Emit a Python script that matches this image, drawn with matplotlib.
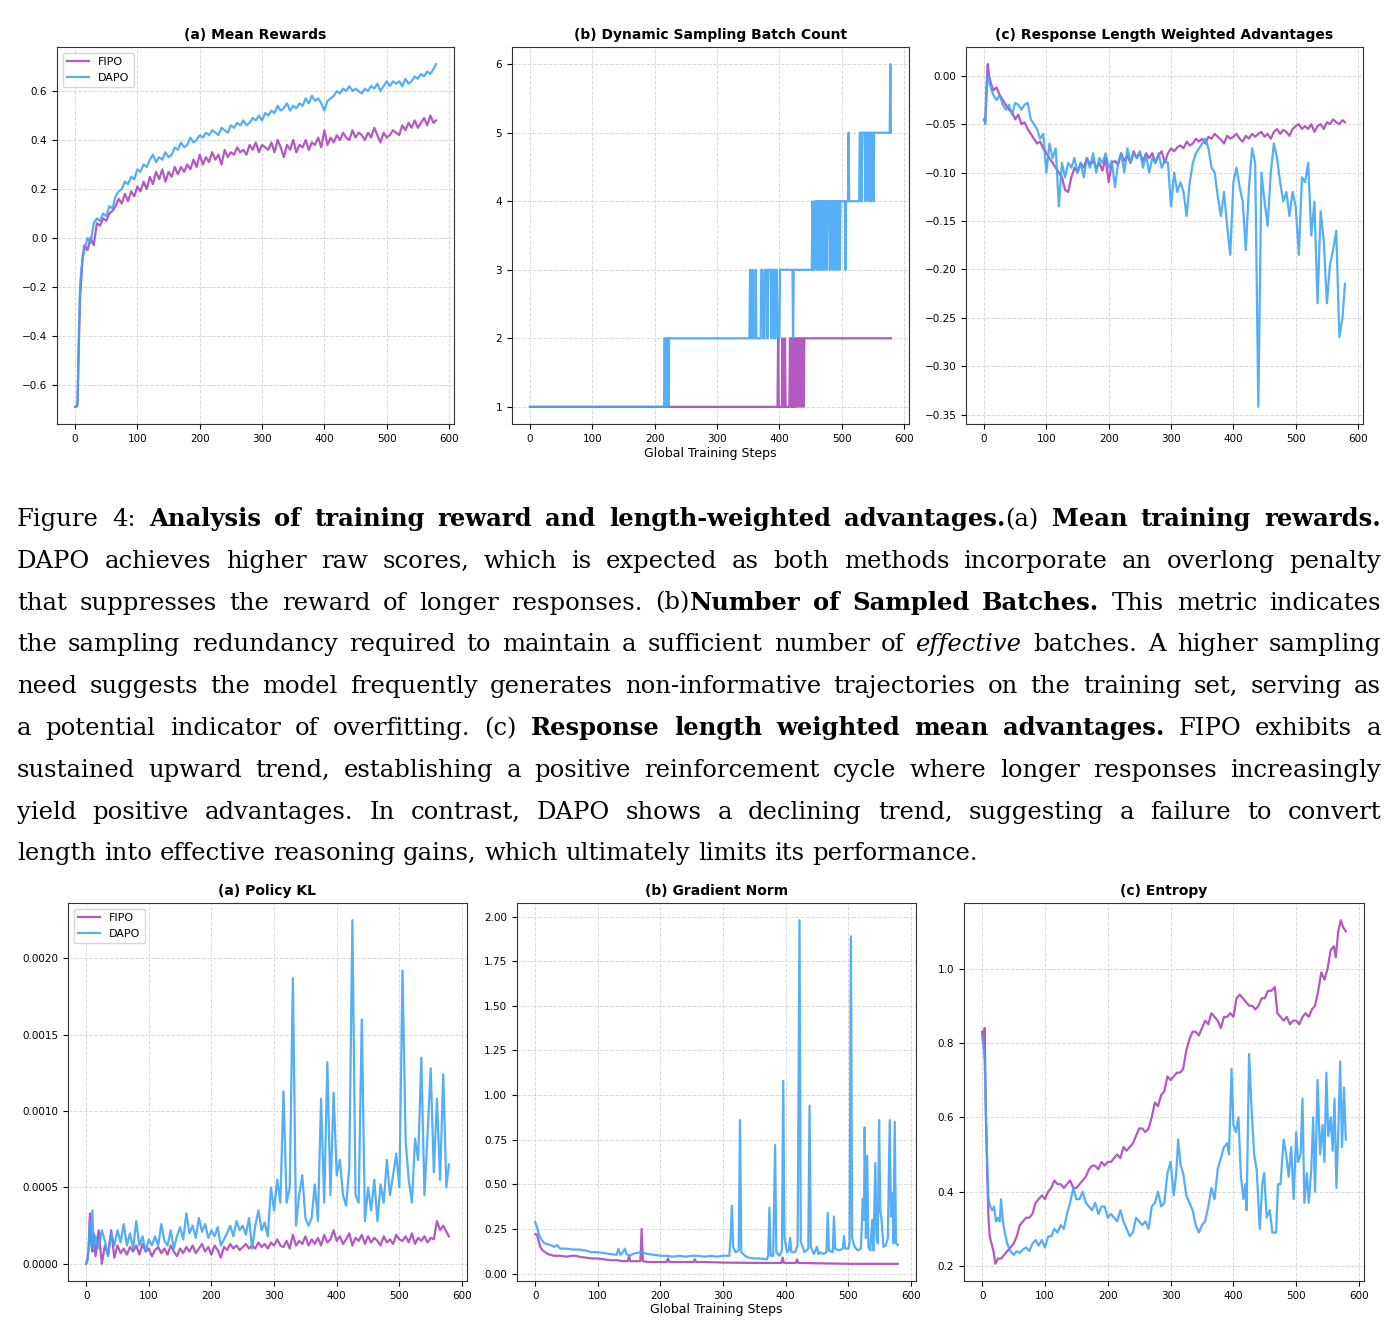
import matplotlib
matplotlib.use("Agg")
import matplotlib.pyplot as plt

W, H = 1398, 1337
FIPO_C = '#AB47BC'
DAPO_C = '#42A5F5'

# common step grid used by several panels
steps = [0, 2, 4, 6, 8, 10, 12] + list(range(15, 580, 5)) + [579]

# ---------------- (a) Mean Rewards ----------------
reward_fipo = [-0.69, -0.69, -0.68, -0.45, -0.25, -0.17, -0.08,
               -0.03, -0.05, 0.00, -0.03, 0.06, 0.05, 0.08, 0.07, 0.10, 0.11,
               0.13, 0.16, 0.14, 0.18, 0.15, 0.19, 0.17, 0.21, 0.19, 0.23,
               0.20, 0.25, 0.22, 0.27, 0.24, 0.28, 0.23, 0.27, 0.25, 0.29,
               0.26, 0.29, 0.27, 0.30, 0.28, 0.32, 0.29, 0.34, 0.30, 0.33,
               0.31, 0.35, 0.32, 0.34, 0.30, 0.36, 0.33, 0.35, 0.34, 0.37,
               0.35, 0.36, 0.34, 0.38, 0.36, 0.39, 0.35, 0.38, 0.37, 0.36,
               0.39, 0.35, 0.40, 0.37, 0.33, 0.38, 0.36, 0.40, 0.35, 0.38,
               0.37, 0.40, 0.36, 0.39, 0.38, 0.41, 0.37, 0.44, 0.38, 0.41,
               0.39, 0.42, 0.40, 0.43, 0.41, 0.40, 0.44, 0.41, 0.43, 0.42,
               0.40, 0.43, 0.41, 0.45, 0.42, 0.39, 0.43, 0.41, 0.42, 0.44,
               0.43, 0.42, 0.46, 0.44, 0.47, 0.45, 0.48, 0.45, 0.47, 0.49,
               0.46, 0.50, 0.47,
               0.48]
reward_dapo = [-0.69, -0.69, -0.67, -0.40, -0.20, -0.13, -0.09,
               -0.05, 0.00, -0.02, 0.06, 0.08, 0.07, 0.10, 0.09, 0.13, 0.12,
               0.17, 0.19, 0.20, 0.23, 0.22, 0.25, 0.24, 0.28, 0.27, 0.30,
               0.29, 0.32, 0.34, 0.31, 0.33, 0.32, 0.35, 0.33, 0.34, 0.37,
               0.36, 0.39, 0.37, 0.38, 0.41, 0.39, 0.40, 0.42, 0.41, 0.43,
               0.42, 0.44, 0.43, 0.42, 0.45, 0.44, 0.43, 0.46, 0.45, 0.47,
               0.46, 0.48, 0.46, 0.47, 0.49, 0.48, 0.50, 0.48, 0.51, 0.50,
               0.52, 0.51, 0.54, 0.52, 0.53, 0.55, 0.52, 0.54, 0.53, 0.55,
               0.54, 0.57, 0.55, 0.58, 0.56, 0.57, 0.55, 0.52, 0.56, 0.57,
               0.58, 0.60, 0.59, 0.61, 0.60, 0.62, 0.60, 0.61, 0.60, 0.59,
               0.61, 0.60, 0.62, 0.61, 0.63, 0.60, 0.62, 0.64, 0.62, 0.64,
               0.63, 0.64, 0.62, 0.65, 0.63, 0.64, 0.66, 0.65, 0.67, 0.66,
               0.68, 0.67, 0.69,
               0.71]

# ---------------- (b) Dynamic Sampling Batch Count ----------------
batch_fipo_x = [0, 397, 398, 399, 404, 405, 406, 408, 409, 410,
                416, 417, 418, 419, 420, 421, 422, 423, 424, 425,
                426, 427, 428, 430, 431, 432, 434, 435, 436, 438,
                439, 440, 579]
batch_fipo = [1, 1, 2, 1, 1, 2, 1, 1, 2, 1,
              1, 2, 2, 1, 2, 1, 2, 1, 2, 1,
              2, 1, 2, 2, 1, 2, 2, 1, 2, 2,
              1, 2, 2]
batch_dapo_x = [0, 215, 216, 217, 218, 219, 220, 221, 222, 223,
                352, 353, 354, 356, 357, 358, 361, 362, 363, 370,
                371, 373, 374, 376, 377, 380, 381, 382, 386, 387,
                388, 390, 391, 392, 393, 394, 396, 397, 400, 401,
                421, 422, 423, 452, 453, 454, 456, 457, 459, 460,
                461, 462, 463, 465, 466, 467, 468, 469, 471, 472,
                473, 475, 476, 477, 480, 481, 482, 484, 485, 486,
                488, 489, 490, 492, 493, 494, 496, 497, 498, 505,
                506, 507, 510, 511, 512, 528, 529, 531, 532, 533,
                537, 538, 539, 542, 543, 544, 546, 547, 548, 550,
                551, 552, 577, 578, 579]
batch_dapo = [1, 1, 2, 1, 2, 2, 1, 2, 1, 2,
              2, 3, 2, 2, 3, 2, 2, 3, 2, 2,
              3, 3, 2, 2, 3, 3, 2, 3, 3, 2,
              3, 3, 2, 3, 2, 3, 3, 2, 2, 3,
              3, 2, 3, 3, 4, 3, 3, 4, 4, 3,
              4, 3, 4, 4, 3, 4, 3, 4, 4, 3,
              4, 4, 3, 4, 4, 3, 4, 4, 3, 4,
              4, 3, 4, 4, 3, 4, 4, 3, 4, 4,
              3, 4, 4, 5, 4, 4, 5, 5, 4, 5,
              5, 4, 5, 5, 4, 5, 5, 4, 5, 5,
              4, 5, 5, 6, 5]

# ---------------- (c) Response Length Weighted Advantages ----------------
adv_fipo = [-0.045, -0.048, -0.010, 0.012, 0.000, -0.005, -0.010,
            -0.015, -0.012, -0.020, -0.025, -0.030, -0.035, -0.038, -0.045, -0.040, -0.050,
            -0.048, -0.055, -0.060, -0.065, -0.070, -0.068, -0.075, -0.080, -0.085, -0.090,
            -0.095, -0.100, -0.105, -0.118, -0.120, -0.105, -0.095, -0.100, -0.090, -0.095,
            -0.085, -0.092, -0.088, -0.095, -0.090, -0.098, -0.085, -0.110, -0.090, -0.088,
            -0.092, -0.080, -0.088, -0.083, -0.090, -0.078, -0.085, -0.080, -0.088, -0.080,
            -0.085, -0.080, -0.090, -0.082, -0.078, -0.090, -0.080, -0.075, -0.078, -0.074,
            -0.072, -0.075, -0.068, -0.072, -0.070, -0.065, -0.068, -0.065, -0.070, -0.063,
            -0.065, -0.060, -0.063, -0.066, -0.070, -0.062, -0.065, -0.063, -0.060, -0.065,
            -0.068, -0.062, -0.065, -0.060, -0.063, -0.060, -0.058, -0.063, -0.060, -0.065,
            -0.058, -0.055, -0.060, -0.056, -0.058, -0.062, -0.055, -0.052, -0.050, -0.055,
            -0.052, -0.055, -0.050, -0.058, -0.052, -0.050, -0.055, -0.048, -0.050, -0.045,
            -0.048, -0.050, -0.046,
            -0.048]
adv_dapo = [-0.045, -0.050, -0.020, 0.000, -0.005, -0.010, -0.015,
            -0.020, -0.025, -0.020, -0.030, -0.035, -0.030, -0.040, -0.028, -0.030, -0.035,
            -0.030, -0.028, -0.045, -0.050, -0.055, -0.065, -0.060, -0.100, -0.070, -0.085,
            -0.075, -0.135, -0.090, -0.105, -0.090, -0.095, -0.085, -0.100, -0.090, -0.105,
            -0.085, -0.095, -0.080, -0.100, -0.085, -0.090, -0.080, -0.095, -0.088, -0.115,
            -0.090, -0.080, -0.100, -0.075, -0.090, -0.080, -0.085, -0.078, -0.095, -0.082,
            -0.100, -0.085, -0.090, -0.080, -0.095, -0.088, -0.090, -0.135, -0.100, -0.120,
            -0.110, -0.120, -0.145, -0.110, -0.090, -0.080, -0.075, -0.070, -0.065, -0.075,
            -0.095, -0.100, -0.125, -0.145, -0.120, -0.155, -0.185, -0.110, -0.095, -0.115,
            -0.130, -0.180, -0.115, -0.075, -0.090, -0.342, -0.100, -0.130, -0.155, -0.100,
            -0.070, -0.085, -0.110, -0.130, -0.120, -0.145, -0.120, -0.135, -0.185, -0.105,
            -0.110, -0.090, -0.165, -0.130, -0.235, -0.140, -0.170, -0.235, -0.195, -0.180,
            -0.160, -0.270, -0.250,
            -0.215]

# ---------------- (a) Policy KL ----------------
kl_fipo = [0.0, 0.00003, 0.0001, 0.00033, 0.00015, 0.00008, 0.0002,
           0.00005, 0.00022, 0.0, 0.00012, 0.00006, 0.00022, 0.00004, 0.00012, 0.00007, 0.00010,
           0.00006, 0.00011, 0.00008, 0.00012, 0.00006, 0.00013, 0.00008, 0.00010, 0.00005, 0.00009,
           0.00011, 0.00007, 0.00010, 0.00006, 0.00012, 0.00008, 0.00005, 0.00010, 0.00007, 0.00011,
           0.00008, 0.00012, 0.00007, 0.00010, 0.00013, 0.00008, 0.00011, 0.00006, 0.00012, 0.00009,
           0.00004, 0.00011, 0.00009, 0.00013, 0.00010, 0.00012, 0.00009, 0.00011, 0.00013, 0.00010,
           0.00012, 0.00010, 0.00014, 0.00011, 0.00013, 0.00010, 0.00014, 0.00012, 0.00016, 0.00012,
           0.00011, 0.00015, 0.00010, 0.00019, 0.00012, 0.00015, 0.00013, 0.00018, 0.00012, 0.00016,
           0.00013, 0.00017, 0.00012, 0.00019, 0.00014, 0.00016, 0.00022, 0.00015, 0.00018, 0.00013,
           0.00016, 0.00020, 0.00012, 0.00017, 0.00015, 0.00019, 0.00013, 0.00018, 0.00014, 0.00017,
           0.00015, 0.00012, 0.00018, 0.00014, 0.00016, 0.00013, 0.00019, 0.00016, 0.00015, 0.00018,
           0.00014, 0.00020, 0.00013, 0.00017, 0.00015, 0.00018, 0.00014, 0.00017, 0.00016, 0.00028,
           0.00022, 0.00025, 0.00021,
           0.00018]
kl_dapo = [0.0, 0.00002, 0.0001, 0.00028, 0.00012, 0.00035, 0.0001,
           0.00018, 0.0001, 0.00022, 0.00015, 0.00005, 0.0002, 0.00012, 0.00022, 0.00014, 0.00026,
           0.00012, 0.0002, 0.0001, 0.00028, 0.00012, 0.00018, 0.00008, 0.00016, 0.00012, 0.00018,
           0.00012, 0.00026, 0.00015, 0.00012, 0.00022, 0.0001, 0.00018, 0.00024, 0.00016, 0.00033,
           0.0002, 0.00025, 0.00017, 0.0003, 0.00021, 0.00026, 0.00017, 0.00022, 0.00018, 0.00024,
           0.00012, 0.00016, 0.0002, 0.00025, 0.00018, 0.00028, 0.00022, 0.00025, 0.00019, 0.0003,
           0.0001, 0.00025, 0.00035, 0.00022, 0.00027, 0.00018, 0.0005, 0.00035, 0.00055, 0.0004,
           0.00113, 0.0004, 0.0005, 0.00187, 0.00025, 0.00045, 0.00058, 0.0003, 0.00025, 0.0003,
           0.00052, 0.00028, 0.00108, 0.0004, 0.00132, 0.00045, 0.00112, 0.00058, 0.00068, 0.00045,
           0.00038, 0.00063, 0.00225, 0.00045, 0.0004, 0.0016, 0.00028, 0.0005, 0.00035, 0.00055,
           0.00028, 0.00052, 0.0004, 0.00068, 0.00045, 0.00058, 0.00072, 0.0005, 0.00192, 0.0008,
           0.00055, 0.0004, 0.00082, 0.00068, 0.00135, 0.00045, 0.00085, 0.00128, 0.0006, 0.00108,
           0.00055, 0.00124, 0.0005,
           0.00065]

# ---------------- (b) Gradient Norm ----------------
gn_fipo_x = [0, 3, 5, 8, 12, 16, 20, 30, 40, 50, 60, 65, 70, 80, 90, 100,
             110, 120, 130, 140, 148, 150, 152, 160, 168, 170, 172,
             180, 190, 200, 210, 212, 214, 220, 240, 253, 255, 257, 270, 300, 350,
             393, 395, 397, 400, 416, 418, 420, 450, 500, 550, 579]
gn_fipo = [0.22, 0.22, 0.19, 0.15, 0.13, 0.12, 0.11, 0.10, 0.10, 0.095, 0.10, 0.10, 0.095, 0.09, 0.085, 0.085,
           0.08, 0.075, 0.075, 0.07, 0.07, 0.10, 0.07, 0.07, 0.07, 0.25, 0.07,
           0.065, 0.065, 0.065, 0.065, 0.085, 0.065, 0.065, 0.065, 0.065, 0.08, 0.065, 0.065, 0.062, 0.06,
           0.06, 0.09, 0.06, 0.06, 0.06, 0.08, 0.06, 0.058, 0.055, 0.055, 0.055]
gn_dapo_x = [0, 3, 6, 10, 15, 20, 25, 30, 35, 40,
             50, 60, 70, 80, 90, 100, 110, 120, 130, 133,
             136, 140, 143, 146, 150, 160, 170, 180, 190, 200,
             210, 220, 230, 240, 250, 260, 270, 280, 290, 300,
             310, 312, 314, 316, 320, 325, 327, 329, 335, 340,
             350, 360, 370, 372, 374, 376, 380, 383, 385, 390,
             394, 396, 398, 402, 405, 407, 409, 415, 419, 422,
             424, 430, 436, 438, 440, 445, 450, 452, 455, 460,
             465, 467, 469, 475, 477, 479, 485, 491, 493, 495,
             500, 502, 504, 506, 510, 515, 520, 523, 525, 526,
             528, 530, 532, 535, 538, 540, 543, 545, 547, 549,
             551, 553, 556, 560, 563, 566, 568, 570, 572, 574,
             576, 579]
gn_dapo = [0.29, 0.26, 0.22, 0.19, 0.17, 0.165, 0.16, 0.15, 0.16, 0.14,
           0.14, 0.135, 0.135, 0.13, 0.12, 0.12, 0.115, 0.11, 0.105, 0.14,
           0.105, 0.12, 0.14, 0.11, 0.10, 0.115, 0.12, 0.11, 0.105, 0.10,
           0.10, 0.095, 0.10, 0.095, 0.10, 0.10, 0.095, 0.10, 0.095, 0.10,
           0.10, 0.20, 0.38, 0.15, 0.12, 0.13, 0.86, 0.12, 0.10, 0.09,
           0.085, 0.085, 0.08, 0.10, 0.37, 0.10, 0.10, 0.72, 0.12, 0.10,
           0.13, 1.08, 0.20, 0.12, 0.13, 0.20, 0.12, 0.12, 0.16, 1.98,
           0.18, 0.12, 0.14, 0.94, 0.15, 0.11, 0.15, 0.11, 0.12, 0.11,
           0.12, 0.34, 0.13, 0.12, 0.32, 0.14, 0.13, 0.14, 0.21, 0.14,
           0.14, 0.18, 1.89, 0.20, 0.15, 0.13, 0.14, 0.42, 0.30, 0.82,
           0.20, 0.66, 0.15, 0.13, 0.30, 0.13, 0.62, 0.20, 0.17, 0.86,
           0.35, 0.30, 0.15, 0.16, 0.20, 0.86, 0.32, 0.45, 0.17, 0.85,
           0.17, 0.16]

# ---------------- (c) Entropy ----------------
ent_fipo_x = [0, 2, 4, 6, 8, 10, 12, 15, 18, 21,
              25, 30, 35, 40, 45, 50, 55, 60, 65, 70,
              75, 80, 85, 90, 95, 100, 105, 110, 115, 120,
              125, 130, 135, 140, 145, 150, 155, 160, 165, 170,
              175, 180, 185, 190, 195, 200, 205, 210, 215, 220,
              225, 230, 235, 240, 245, 250, 255, 260, 265, 270,
              275, 280, 285, 290, 295, 300, 305, 310, 315, 320,
              325, 330, 335, 340, 345, 350, 355, 360, 365, 370,
              375, 380, 385, 390, 395, 400, 405, 410, 415, 420,
              425, 430, 435, 440, 445, 450, 455, 460, 466, 470,
              475, 480, 485, 490, 495, 500, 505, 510, 515, 520,
              525, 530, 535, 540, 545, 550, 555, 560, 563, 567,
              571, 575, 579]
ent_fipo = [0.83, 0.80, 0.84, 0.60, 0.45, 0.33, 0.28, 0.26, 0.24, 0.206,
            0.22, 0.22, 0.23, 0.24, 0.25, 0.26, 0.28, 0.31, 0.32, 0.33,
            0.33, 0.34, 0.37, 0.38, 0.39, 0.38, 0.40, 0.41, 0.43, 0.42,
            0.42, 0.41, 0.42, 0.43, 0.41, 0.41, 0.42, 0.43, 0.44, 0.46,
            0.47, 0.47, 0.46, 0.48, 0.47, 0.48, 0.48, 0.49, 0.50, 0.49,
            0.52, 0.51, 0.52, 0.53, 0.55, 0.57, 0.57, 0.56, 0.57, 0.60,
            0.64, 0.63, 0.66, 0.67, 0.71, 0.70, 0.71, 0.72, 0.72, 0.73,
            0.78, 0.81, 0.83, 0.83, 0.82, 0.84, 0.86, 0.85, 0.88, 0.87,
            0.86, 0.84, 0.87, 0.87, 0.88, 0.87, 0.92, 0.93, 0.92, 0.91,
            0.90, 0.90, 0.89, 0.90, 0.92, 0.92, 0.94, 0.94, 0.95, 0.88,
            0.87, 0.86, 0.87, 0.85, 0.86, 0.86, 0.85, 0.87, 0.88, 0.87,
            0.89, 0.90, 0.94, 0.99, 0.97, 1.00, 1.05, 1.06, 1.03, 1.10,
            1.13, 1.11, 1.10]
ent_dapo_x = [0, 2, 4, 6, 8, 10, 13, 16, 19, 22,
              25, 28, 30, 33, 36, 40, 45, 50, 55, 60,
              65, 70, 75, 80, 85, 90, 95, 100, 105, 110,
              115, 120, 125, 130, 135, 140, 145, 150, 155, 160,
              165, 170, 175, 180, 185, 190, 195, 200, 205, 210,
              215, 220, 225, 230, 235, 240, 245, 250, 255, 260,
              265, 270, 275, 280, 285, 290, 295, 300, 305, 309,
              312, 316, 320, 325, 330, 335, 340, 345, 350, 355,
              360, 365, 370, 375, 380, 385, 390, 393, 397, 400,
              404, 408, 412, 416, 419, 421, 425, 429, 433, 437,
              442, 446, 449, 453, 458, 462, 468, 471, 475, 480,
              484, 488, 492, 496, 500, 503, 507, 510, 513, 517,
              520, 524, 527, 530, 534, 538, 542, 545, 548, 551,
              555, 558, 561, 564, 567, 570, 573, 576, 579]
ent_dapo = [0.82, 0.79, 0.75, 0.60, 0.48, 0.38, 0.36, 0.35, 0.36, 0.32,
            0.33, 0.32, 0.38, 0.32, 0.29, 0.26, 0.24, 0.23, 0.24, 0.235,
            0.245, 0.25, 0.24, 0.26, 0.27, 0.255, 0.27, 0.25, 0.28, 0.28,
            0.30, 0.29, 0.31, 0.30, 0.34, 0.37, 0.41, 0.38, 0.38, 0.40,
            0.37, 0.36, 0.35, 0.37, 0.34, 0.36, 0.36, 0.33, 0.34, 0.33,
            0.32, 0.35, 0.32, 0.30, 0.28, 0.29, 0.33, 0.32, 0.31, 0.32,
            0.30, 0.36, 0.37, 0.40, 0.36, 0.37, 0.45, 0.48, 0.39, 0.45,
            0.54, 0.47, 0.45, 0.39, 0.37, 0.35, 0.31, 0.29, 0.31, 0.32,
            0.36, 0.41, 0.38, 0.46, 0.49, 0.52, 0.53, 0.50, 0.73, 0.58,
            0.56, 0.60, 0.44, 0.38, 0.42, 0.35, 0.77, 0.62, 0.50, 0.46,
            0.30, 0.42, 0.45, 0.33, 0.35, 0.29, 0.29, 0.42, 0.42, 0.54,
            0.50, 0.44, 0.52, 0.38, 0.56, 0.48, 0.50, 0.65, 0.37, 0.45,
            0.37, 0.46, 0.60, 0.40, 0.70, 0.50, 0.58, 0.48, 0.72, 0.55,
            0.60, 0.51, 0.65, 0.41, 0.56, 0.75, 0.52, 0.68, 0.54]

# ---------------- caption ----------------
caption_lines = [
    [("Figure 4:  ", "normal", "normal"),
     ("Analysis of training reward and length-weighted advantages.", "bold", "normal"),
     ("(a) ", "normal", "normal"), ("Mean training rewards.", "bold", "normal")],
    [("DAPO achieves higher raw scores, which is expected as both methods incorporate an overlong penalty",
      "normal", "normal")],
    [("that suppresses the reward of longer responses. (b)", "normal", "normal"),
     ("Number of Sampled Batches.", "bold", "normal"),
     (" This metric indicates", "normal", "normal")],
    [("the sampling redundancy required to maintain a sufficient number of ", "normal", "normal"),
     ("effective", "normal", "italic"),
     (" batches.  A higher sampling", "normal", "normal")],
    [("need suggests the model frequently generates non-informative trajectories on the training set, serving as",
      "normal", "normal")],
    [("a potential indicator of overfitting.  (c) ", "normal", "normal"),
     ("Response length weighted mean advantages.", "bold", "normal"),
     (" FIPO exhibits a", "normal", "normal")],
    [("sustained upward trend, establishing a positive reinforcement cycle where longer responses increasingly",
      "normal", "normal")],
    [("yield positive advantages. In contrast, DAPO shows a declining trend, suggesting a failure to convert",
      "normal", "normal")],
    [("length into effective reasoning gains, which ultimately limits its performance.", "normal", "normal")],
]

fig = plt.figure(figsize=(W / 100, H / 100), dpi=100)


def make_ax(l, t, r, b):
    return fig.add_axes([l / W, 1 - b / H, (r - l) / W, (b - t) / H])


def style(ax, title, xlabel=None):
    ax.set_title(title, fontsize=10, fontweight='bold', pad=6)
    ax.grid(True, linestyle='--', color='#d0d0d0', linewidth=0.7, alpha=0.8)
    ax.set_axisbelow(True)
    ax.tick_params(labelsize=7.5)
    ax.set_xticks([0, 100, 200, 300, 400, 500, 600])
    if xlabel:
        ax.set_xlabel(xlabel, fontsize=9, labelpad=2)
    for s in ax.spines.values():
        s.set_color('#333333')


lw = 1.6
al = 0.9

# top row
ax1 = make_ax(57, 47, 454, 424)
ax1.plot(steps, reward_fipo, color=FIPO_C, lw=lw, alpha=al, label='FIPO')
ax1.plot(steps, reward_dapo, color=DAPO_C, lw=lw, alpha=al, label='DAPO')
style(ax1, '(a) Mean Rewards')
ax1.legend(loc='upper left', fontsize=8, framealpha=0.8)

ax2 = make_ax(512, 47, 909, 424)
ax2.plot(batch_fipo_x, batch_fipo, color=FIPO_C, lw=lw, alpha=al)
ax2.plot(batch_dapo_x, batch_dapo, color=DAPO_C, lw=lw, alpha=al)
style(ax2, '(b) Dynamic Sampling Batch Count', 'Global Training Steps')

ax3 = make_ax(966, 47, 1363, 424)
ax3.plot(steps, adv_fipo, color=FIPO_C, lw=lw, alpha=al)
ax3.plot(steps, adv_dapo, color=DAPO_C, lw=lw, alpha=al)
style(ax3, '(c) Response Length Weighted Advantages')

# bottom row
ax4 = make_ax(68, 903, 467, 1281)
ax4.plot(steps, kl_fipo, color=FIPO_C, lw=lw, alpha=al, label='FIPO')
ax4.plot(steps, kl_dapo, color=DAPO_C, lw=lw, alpha=al, label='DAPO')
style(ax4, '(a) Policy KL')
ax4.legend(loc='upper left', fontsize=8, framealpha=0.8)

ax5 = make_ax(517, 903, 916, 1281)
ax5.plot(gn_fipo_x, gn_fipo, color=FIPO_C, lw=lw, alpha=al)
ax5.plot(gn_dapo_x, gn_dapo, color=DAPO_C, lw=lw, alpha=al)
style(ax5, '(b) Gradient Norm', 'Global Training Steps')

ax6 = make_ax(964, 903, 1364, 1281)
ax6.plot(ent_fipo_x, ent_fipo, color=FIPO_C, lw=lw, alpha=al)
ax6.plot(ent_dapo_x, ent_dapo, color=DAPO_C, lw=lw, alpha=al)
style(ax6, '(c) Entropy')


# caption, justified word by word
def tokenize(runs):
    words = []
    new = True
    for text, fw, fs in runs:
        parts = text.split(' ')
        for i, p in enumerate(parts):
            if i > 0:
                new = True
            if not p:
                continue
            if new:
                words.append([])
                new = False
            words[-1].append((p, fw, fs))
    return words


renderer = fig.canvas.get_renderer()
cap_font = 'DejaVu Serif'
x_left, x_right = 17, 1381


def measure(word, size):
    ws = []
    for p, fw, fs in word:
        t = fig.text(0, 0, p, fontsize=size, family=cap_font, weight=fw, style=fs)
        ws.append(t.get_window_extent(renderer).width)
        t.remove()
    return sum(ws)


# pick a size so the widest justified line fits with ordinary spaces
base = 16
widest = 0
for runs in caption_lines[:-1]:
    words = tokenize(runs)
    nat = sum(measure(w, base) for w in words) + (len(words) - 1) * 0.318 * base * 100 / 72
    widest = max(widest, nat)
cap_size = min(17.5, base * (x_right - x_left) / widest * 0.99)
space_w = 0.318 * cap_size * 100 / 72

for li, runs in enumerate(caption_lines):
    words = tokenize(runs)
    y = 1 - (526 + li * 41.8) / H
    objs, widths = [], []
    for w in words:
        pieces, ww = [], 0
        for p, fw, fs in w:
            t = fig.text(0, y, p, fontsize=cap_size, family=cap_font,
                         weight=fw, style=fs, va='baseline', ha='left')
            pw = t.get_window_extent(renderer).width
            pieces.append((t, pw))
            ww += pw
        objs.append(pieces)
        widths.append(ww)
    if li == len(caption_lines) - 1:
        gap = space_w
    else:
        gap = (x_right - x_left - sum(widths)) / (len(words) - 1)
    x = x_left
    for pieces, ww in zip(objs, widths):
        for t, pw in pieces:
            t.set_x(x / W)
            x += pw
        x += gap

fig.savefig('out.png', dpi=100)
